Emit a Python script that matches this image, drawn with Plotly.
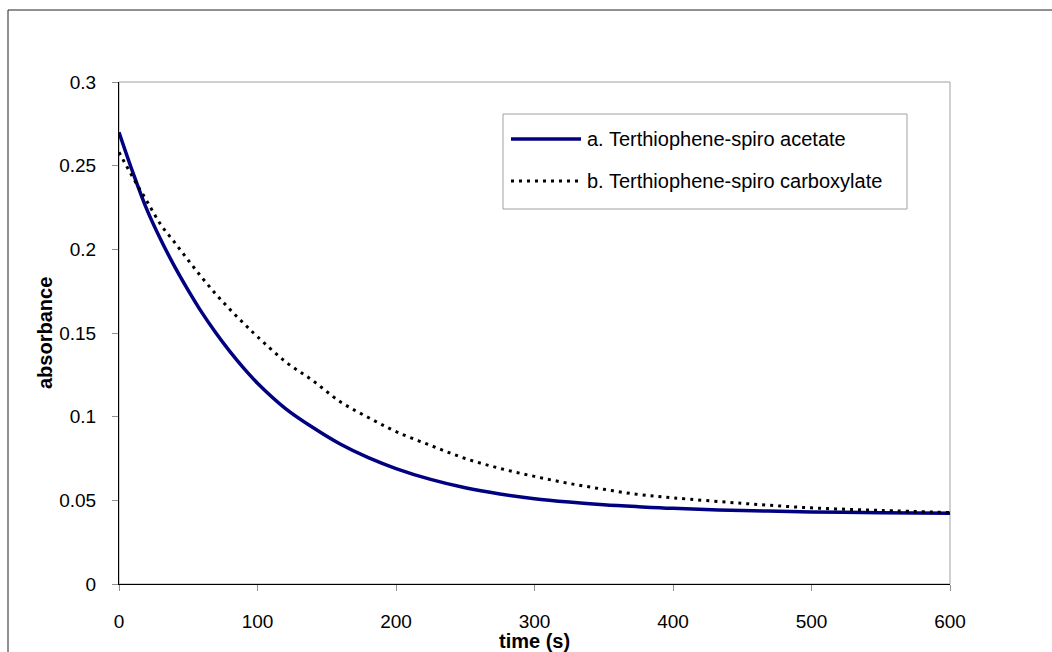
import plotly.graph_objects as go

# ---- data ----
time_a = [0, 10, 20, 30, 40, 50, 60, 70, 80, 90, 100, 120, 140, 160, 180, 200,
          225, 250, 275, 300, 325, 350, 375, 400, 450, 500, 550, 600]
abs_a = [0.270, 0.246, 0.224, 0.206, 0.190, 0.1755, 0.162, 0.150, 0.139, 0.129,
         0.120, 0.105, 0.0935, 0.0835, 0.0755, 0.0690, 0.0625, 0.0575, 0.0538,
         0.0510, 0.0490, 0.0474, 0.0462, 0.0452, 0.0439, 0.0431, 0.0426, 0.0423]

time_b = [0, 10, 20, 30, 40, 50, 60, 70, 80, 90, 100, 120, 140, 160, 180, 200,
          225, 250, 275, 300, 325, 350, 375, 400, 450, 500, 550, 600]
abs_b = [0.258, 0.243, 0.229, 0.215, 0.2043, 0.1935, 0.1830, 0.1732, 0.1642,
         0.1558, 0.1478, 0.1330, 0.1215, 0.1088, 0.0995, 0.0911, 0.0828, 0.0750,
         0.0691, 0.0643, 0.0601, 0.0566, 0.0535, 0.0515, 0.0482, 0.0455, 0.0440,
         0.0427]

name_a = "a. Terthiophene-spiro acetate"
name_b = "b. Terthiophene-spiro carboxylate"

x_ticks = [0, 100, 200, 300, 400, 500, 600]
x_tick_text = ["0", "100", "200", "300", "400", "500", "600"]
y_ticks = [0, 0.05, 0.1, 0.15, 0.2, 0.25, 0.3]
y_tick_text = ["0", "0.05", "0.1", "0.15", "0.2", "0.25", "0.3"]

x_title = "time (s)"
y_title = "absorbance"

# ---- layout geometry ----
W, H = 1052, 652
L, R, T, B = 119, 102, 82, 68
PW, PH = W - L - R, H - T - B

def px(x):
    return (x - L) / PW

def py(y):
    return (H - B - y) / PH

FONT = "Liberation Sans, Arial, sans-serif"
NAVY = "#000080"

fig = go.Figure()
fig.add_trace(go.Scatter(x=time_a, y=abs_a, mode="lines", name=name_a,
                         line=dict(color=NAVY, width=3.5, shape="spline"),
                         showlegend=False))
fig.add_trace(go.Scatter(x=time_b, y=abs_b, mode="lines", name=name_b,
                         line=dict(color="black", width=3, dash="3px,5px",
                                   shape="spline"),
                         showlegend=False))

shapes = [
    # outer chart frame
    dict(type="rect", xref="paper", yref="paper",
         x0=px(8), x1=px(1070), y0=py(670), y1=py(10),
         line=dict(color="#222222", width=1), layer="below"),
    # plot area border (gray)
    dict(type="rect", xref="paper", yref="paper", x0=0, x1=1, y0=0, y1=1,
         line=dict(color="#a0a0a0", width=1), layer="below"),
    # legend box
    dict(type="rect", xref="paper", yref="paper",
         x0=px(503), x1=px(907), y0=py(209), y1=py(114),
         line=dict(color="#a0a0a0", width=1), fillcolor="white", layer="above"),
    # legend samples
    dict(type="line", xref="paper", yref="paper",
         x0=px(511), x1=px(581), y0=py(139), y1=py(139),
         line=dict(color=NAVY, width=3.5)),
    dict(type="line", xref="paper", yref="paper",
         x0=px(511), x1=px(578), y0=py(181), y1=py(181),
         line=dict(color="black", width=3, dash="3px,5px")),
]

annotations = [
    dict(text=name_a, xref="paper", yref="paper", x=px(585), y=py(139),
         xanchor="left", yanchor="middle", showarrow=False,
         font=dict(family=FONT, size=20, color="black")),
    dict(text=name_b, xref="paper", yref="paper", x=px(585), y=py(181),
         xanchor="left", yanchor="middle", showarrow=False,
         font=dict(family=FONT, size=20, color="black")),
    dict(text="<b>" + x_title + "</b>", xref="paper", yref="paper",
         x=0.5, y=py(641), xanchor="center", yanchor="middle", showarrow=False,
         font=dict(family=FONT, size=20, color="black")),
    dict(text="<b>" + y_title + "</b>", xref="paper", yref="paper",
         x=px(45), y=0.5, xanchor="center", yanchor="middle", showarrow=False,
         textangle=-90, font=dict(family=FONT, size=20, color="black")),
]

fig.update_layout(
    width=W, height=H,
    margin=dict(l=L, r=R, t=T, b=B, autoexpand=False),
    paper_bgcolor="white", plot_bgcolor="white",
    font=dict(family=FONT, size=19, color="black"),
    shapes=shapes, annotations=annotations,
    showlegend=False,
)
fig.update_xaxes(range=[0, 600], tickvals=x_ticks, ticktext=x_tick_text,
                 showline=True, linecolor="black", linewidth=1,
                 ticks="outside", ticklen=6, tickcolor="#909090",
                 showgrid=False, zeroline=False, ticklabelstandoff=14,
                 tickfont=dict(family=FONT, size=19, color="black"))
fig.update_yaxes(range=[0, 0.3], tickvals=y_ticks, ticktext=y_tick_text,
                 showline=True, linecolor="black", linewidth=1,
                 ticks="outside", ticklen=6, tickcolor="#909090",
                 showgrid=False, zeroline=False, ticklabelstandoff=12,
                 tickfont=dict(family=FONT, size=19, color="black"))

fig.write_html("out.html")
